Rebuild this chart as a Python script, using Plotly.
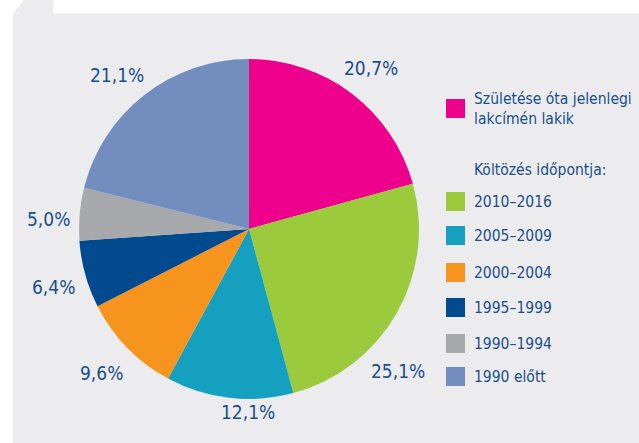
import plotly.graph_objects as go

# data
categories = ["Születése óta jelenlegi<br>lakcímén lakik", "2010–2016", "2005–2009",
              "2000–2004", "1995–1999", "1990–1994", "1990 előtt"]
shares = [20.7, 25.1, 12.1, 9.6, 6.4, 5.0, 21.1]
colors = ["#EC008C", "#9BCB3C", "#14A0BE", "#F7941D", "#004A8D", "#A7A9AC", "#738DBE"]
legend_heading = "Költözés időpontja:"

W, H = 639, 443
FONT = "DejaVu Sans Condensed, sans-serif"
TXT = "#1A4E8C"


def px(x):
    return x / W


def py(y):
    return 1 - y / H


# pie placement (pixels): centre and radius
cx, cy, r = 249, 229, 170

# where the percentage labels sit (pixel centres), in slice order
label_pos = [(371, 68), (398, 371), (248, 412), (101, 373), (53, 287), (48, 219), (117, 75)]

fig = go.Figure(go.Pie(
    values=shares,
    labels=categories,
    sort=False,
    direction="clockwise",
    rotation=0,
    marker=dict(colors=colors, line=dict(width=0)),
    textinfo="none",
    hoverinfo="label+percent",
    showlegend=False,
    domain=dict(x=[px(cx - r), px(cx + r)], y=[py(cy + r), py(cy - r)]),
))

shapes = [
    # grey panel with a cut corner
    dict(type="path", xref="paper", yref="paper", layer="below",
         path=f"M {px(13)} {py(443)} L {px(13)} {py(14)} L {px(24)} {py(0)} "
              f"L {px(639)} {py(0)} L {px(639)} {py(443)} Z",
         fillcolor="#ECECEE", line=dict(width=0)),
    # white title box (cut off at the top)
    dict(type="rect", xref="paper", yref="paper", layer="below",
         x0=px(53), x1=px(639), y0=py(13.5), y1=py(0),
         fillcolor="white", line=dict(width=0)),
]

annotations = []
for v, (lx, ly) in zip(shares, label_pos):
    annotations.append(dict(
        x=px(lx), y=py(ly), xref="paper", yref="paper",
        text=f"{v:.1f}%".replace(".", ","), showarrow=False,
        xanchor="center", yanchor="middle",
        font=dict(family=FONT, size=19, color=TXT)))

# custom legend
legend_y = [108.5, 201.5, 235.5, 272.5, 307.5, 343.5, 376.5]
sq = 19
for name, col, ly in zip(categories, colors, legend_y):
    shapes.append(dict(type="rect", xref="paper", yref="paper",
                       x0=px(446), x1=px(446 + sq), y0=py(ly + sq / 2), y1=py(ly - sq / 2),
                       fillcolor=col, line=dict(width=0)))
    annotations.append(dict(
        x=px(472), y=py(ly), xref="paper", yref="paper", text=name,
        showarrow=False, xanchor="left", yanchor="middle", align="left",
        font=dict(family=FONT, size=15.5, color=TXT)))

annotations.append(dict(
    x=px(472), y=py(170), xref="paper", yref="paper", text=legend_heading,
    showarrow=False, xanchor="left", yanchor="middle",
    font=dict(family=FONT, size=15.5, color=TXT)))

fig.update_layout(
    width=W, height=H,
    margin=dict(l=0, r=0, t=0, b=0),
    paper_bgcolor="white",
    plot_bgcolor="white",
    shapes=shapes,
    annotations=annotations,
)

fig.write_html("out.html", config={"displayModeBar": False},
               post_script="document.body.style.margin='0';")
